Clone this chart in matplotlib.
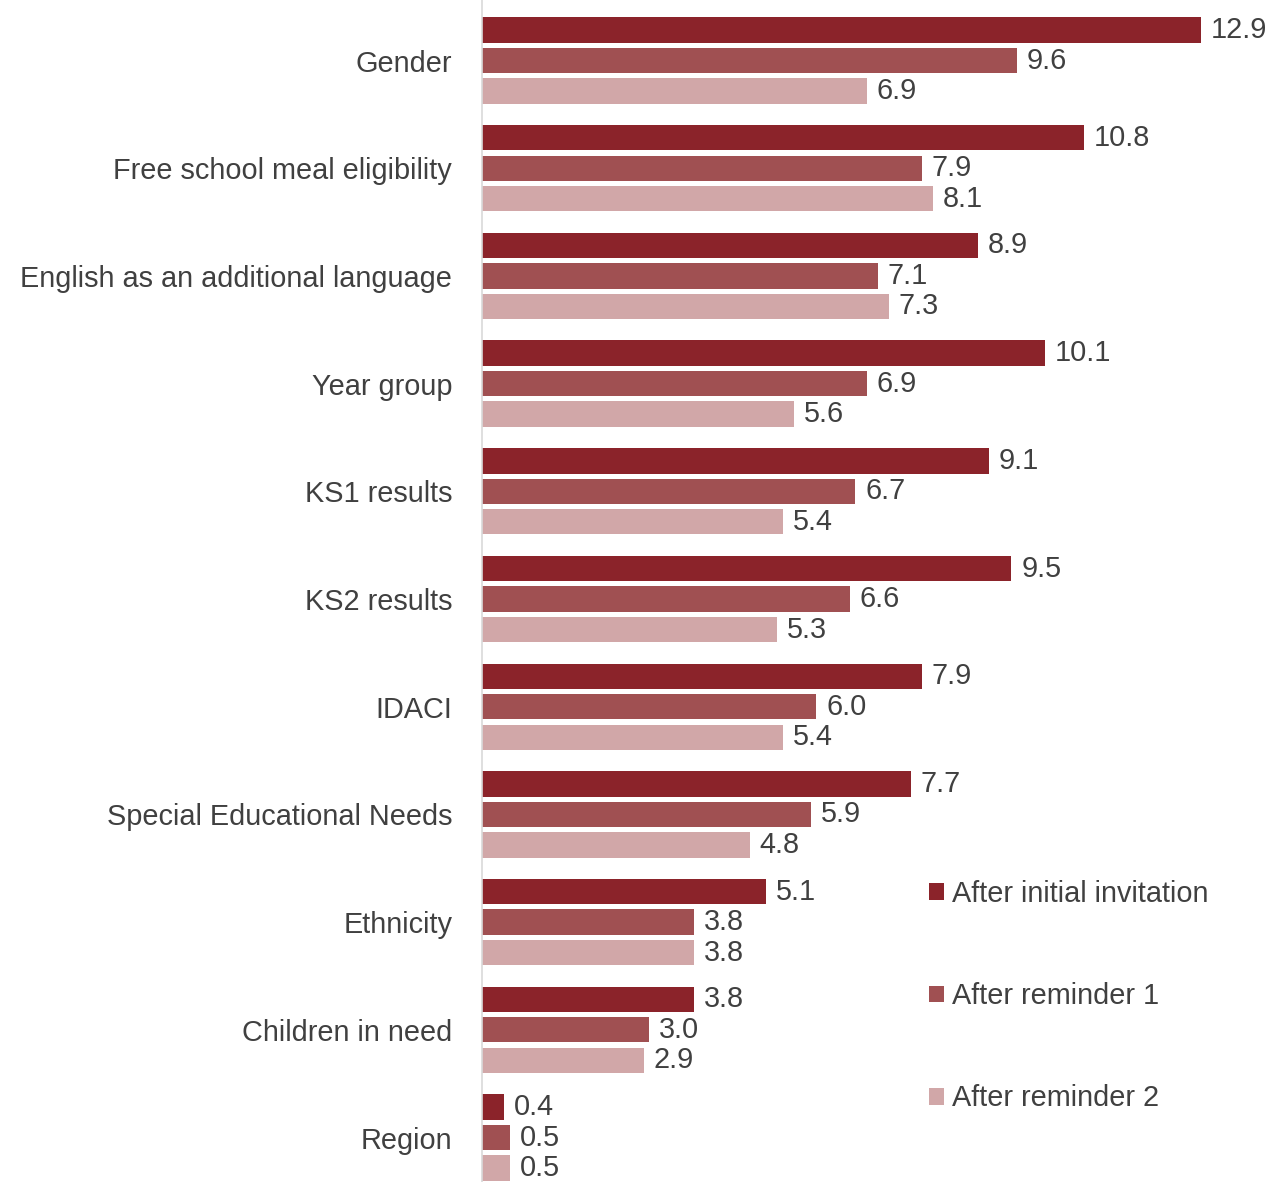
import numpy as np
import matplotlib
matplotlib.use("Agg")
from matplotlib import pyplot as plt

categories = ["Gender", "Free school meal eligibility", "English as an additional language",
              "Year group", "KS1 results", "KS2 results", "IDACI",
              "Special Educational Needs", "Ethnicity", "Children in need", "Region"]
initial = [12.9, 10.8, 8.9, 10.1, 9.1, 9.5, 7.9, 7.7, 5.1, 3.8, 0.4]
reminder1 = [9.6, 7.9, 7.1, 6.9, 6.7, 6.6, 6.0, 5.9, 3.8, 3.0, 0.5]
reminder2 = [6.9, 8.1, 7.3, 5.6, 5.4, 5.3, 5.4, 4.8, 3.8, 2.9, 0.5]
series_names = ["After initial invitation", "After reminder 1", "After reminder 2"]
colors = ["#8B232A", "#A05052", "#D1A7A8"]

plt.rcParams['font.family'] = ['Liberation Sans', 'DejaVu Sans']
txt_color = "#404040"
fs = 20.8

fig = plt.figure(figsize=(12.72, 11.82), dpi=100)
ax = fig.add_axes([482 / 1272, 0, (1265 - 482) / 1272, 1])

y = np.arange(len(categories))
offsets = [-0.283, 0.0, 0.283]
bar_h = 0.235
handles = []
for vals, off, col, name in zip([initial, reminder1, reminder2], offsets, colors, series_names):
    bars = ax.barh(y + off, vals, height=bar_h, color=col, label=name)
    handles.append(bars)
    for b, v in zip(bars, vals):
        ax.annotate(f"{v:.1f}", (b.get_width(), b.get_y() + b.get_height() / 2),
                    xytext=(7, 0), textcoords="offset points", va="center", ha="left",
                    fontsize=fs, color=txt_color)

ax.set_xlim(0, 14.05)
ax.set_ylim(10.413, -0.562)
ax.set_yticks(y)
ax.set_yticklabels(categories, fontsize=fs, color=txt_color)
ax.tick_params(axis='y', length=0, pad=21.5)
ax.set_xticks([])
for s in ["top", "right", "bottom"]:
    ax.spines[s].set_visible(False)
ax.spines["left"].set_color("#d9d9d9")
ax.spines["left"].set_linewidth(1.2)

fig.legend(handles=handles, loc="upper left", bbox_to_anchor=(929 / 1272, 1 - 880 / 1182),
           frameon=False, fontsize=fs, labelcolor=txt_color, handlelength=0.52, handleheight=0.52,
           handletextpad=0.28, labelspacing=2.57, borderpad=0, borderaxespad=0)

fig.savefig("out.png", dpi=100)
